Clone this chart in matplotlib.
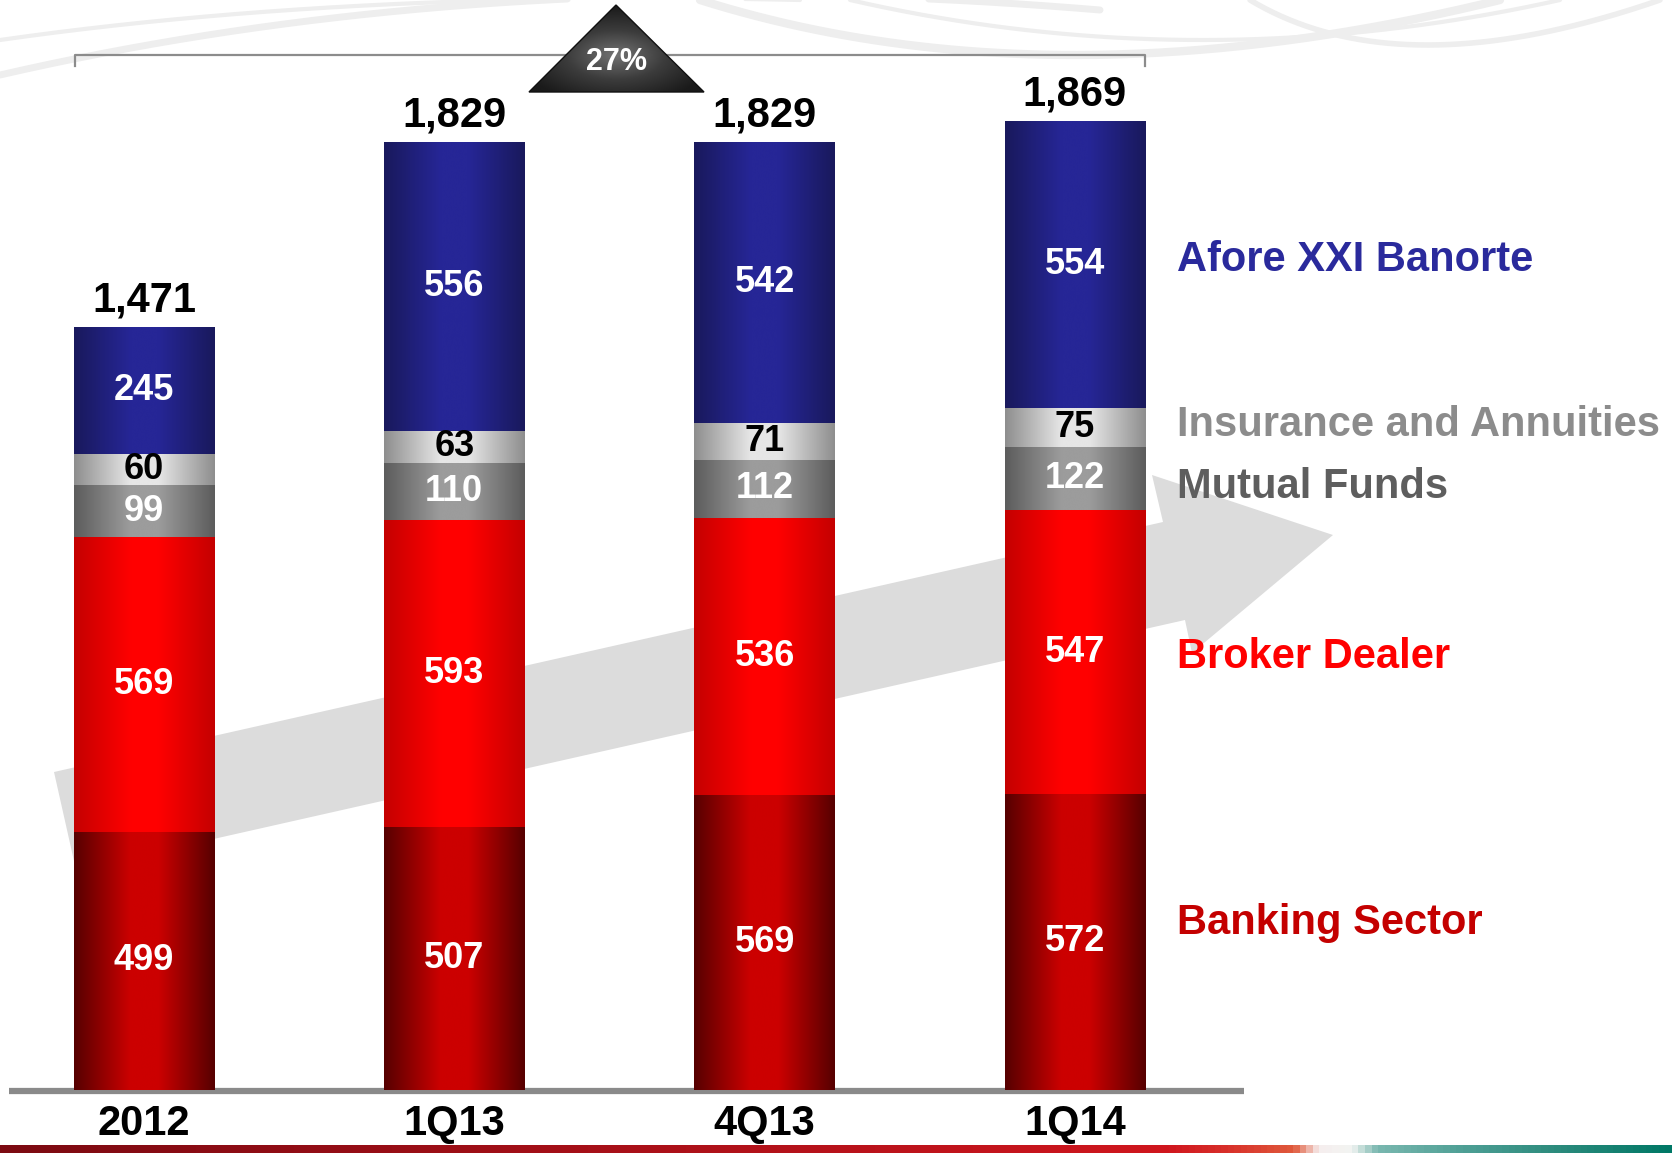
import numpy as np
import matplotlib
matplotlib.use("Agg")
import matplotlib.pyplot as plt
from matplotlib.colors import LinearSegmentedColormap
from matplotlib.patches import Polygon

plt.rcParams['font.family'] = ['Liberation Sans', 'DejaVu Sans']
plt.rcParams['font.weight'] = 'bold'

# --- data ---
periods = ['2012', '1Q13', '4Q13', '1Q14']
banking = [499, 507, 569, 572]
broker = [569, 593, 536, 547]
mutual = [99, 110, 112, 122]
insurance = [60, 63, 71, 75]
afore = [245, 556, 542, 554]
totals = ['1,471', '1,829', '1,829', '1,869']
growth_label = '27%'

series_names = ['Banking Sector', 'Broker Dealer', 'Mutual Funds',
                'Insurance and Annuities', 'Afore XXI Banorte']
series_vals = [banking, broker, mutual, insurance, afore]

# gradient colours per segment: (edge, centre), value text colour, legend colour
seg_edge = ['#560000', '#c40000', '#5c5c5c', '#8e8e8e', '#19195c']
seg_mid = ['#cc0000', '#ff0000', '#9c9c9c', '#e6e6e6', '#262696']
val_color = ['white', 'white', 'white', 'black', 'white']
lab_color = ['#c40000', '#ff0000', '#5e5e5e', '#8c8c8c', '#2a2a9c']
lab_y = [322, 836, 1164, 1284, 1602]   # right-hand label heights (data units)

# pixel -> data mapping of the full 1672x1153 canvas
X0, DX = 144.0, 310.3
Y0, DY = 1090.0, 0.518


def px(x, y):
    return (x - X0) / DX, (Y0 - y) / DY


fig = plt.figure(figsize=(16.72, 11.53), dpi=100)
ax = fig.add_axes([0, 0, 1, 1])
ax.axis('off')

# faint background swooshes at the top of the slide (quadratic curves, pixel space)
t = np.linspace(0, 1, 200)
for p0, p1, p2, lw in [((0, 75), (500, -40), (1100, 10), 5),
                       ((0, 40), (350, -10), (800, 0), 3),
                       ((700, 0), (1050, 110), (1500, 0), 6),
                       ((850, 0), (1200, 80), (1560, 0), 3),
                       ((1250, 0), (1400, 90), (1660, 0), 4)]:
    cx = (1 - t) ** 2 * p0[0] + 2 * (1 - t) * t * p1[0] + t ** 2 * p2[0]
    cy = (1 - t) ** 2 * p0[1] + 2 * (1 - t) * t * p1[1] + t ** 2 * p2[1]
    dx, dy = px(cx, cy)
    ax.plot(dx, dy, color='#eeeeee', lw=lw, zorder=0.2, solid_capstyle='round')

# big gray growth arrow behind the bars
arrow_px = [(54, 772), (1163, 522), (1152, 475), (1333, 535),
            (1192, 653), (1185, 620), (76, 870)]
ax.add_patch(Polygon([px(*p) for p in arrow_px], closed=True,
                     facecolor='#dcdcdc', edgecolor='none', zorder=0.5))

# baseline
bx0, by = px(9, 1091)
bx1, _ = px(1244, 1091)
ax.plot([bx0, bx1], [by, by], color='#8a8a8a', lw=4.5, solid_capstyle='butt', zorder=1)

x = np.arange(len(periods))
width = 0.452
grad = np.linspace(0, 1, 256).reshape(1, -1)

bottoms = np.zeros(len(periods))
for k, vals in enumerate(series_vals):
    cmap = LinearSegmentedColormap.from_list(
        f'seg{k}', [(0, seg_edge[k]), (0.4, seg_mid[k]), (0.6, seg_mid[k]), (1, seg_edge[k])])
    for i, v in enumerate(vals):
        b = bottoms[i]
        ax.imshow(grad, cmap=cmap, aspect='auto', interpolation='bicubic',
                  extent=[x[i] - width / 2, x[i] + width / 2, b, b + v], zorder=2)
        ax.text(x[i], b + v / 2, str(v), ha='center', va='center',
                fontsize=26, color=val_color[k], zorder=3)
    bottoms += np.array(vals)

for i, tot in enumerate(totals):
    ax.annotate(tot, (x[i], bottoms[i]), xytext=(0, 5), textcoords='offset points',
                ha='center', va='bottom', fontsize=30, color='black', zorder=3)

for i, p in enumerate(periods):
    ax.text(x[i], px(0, 1124)[1], p, ha='center', va='center', fontsize=30,
            color='black', zorder=3)

# right-hand series labels
lx = px(1177, 0)[0]
for k, name in enumerate(series_names):
    ax.text(lx, lab_y[k], name, ha='left', va='center', fontsize=30,
            color=lab_color[k], zorder=3)

# bracket over the bars
bl = [px(75, 66), px(75, 55), px(1145, 55), px(1145, 66)]
ax.plot([p[0] for p in bl], [p[1] for p in bl], color='#8c8c8c', lw=1.6, zorder=1.5)

# growth triangle with radial shading
tri_px = [(529, 92), (616, 5), (704, 92)]
tri = Polygon([px(*p) for p in tri_px], closed=True, facecolor='none',
              edgecolor='#111111', lw=1.0, zorder=4.5)
ax.add_patch(tri)
gx, gy = np.meshgrid(np.linspace(529, 704, 200), np.linspace(5, 92, 120))
dist = np.sqrt(((gx - 616) / 90) ** 2 + ((gy - 55) / 45) ** 2)
tri_cmap = LinearSegmentedColormap.from_list('tri', ['#727272', '#3c3c3c', '#1a1a1a'])
x_a, y_a = px(529, 92)
x_b, y_b = px(704, 5)
im = ax.imshow(dist, cmap=tri_cmap, aspect='auto', interpolation='bicubic',
               extent=[x_a, x_b, y_a, y_b], origin='upper', vmin=0, vmax=1.1, zorder=4)
im.set_clip_path(tri)
tx, ty = px(617, 62)
ax.text(tx, ty, growth_label, ha='center', va='center', fontsize=22,
        color='white', zorder=5)

# bottom decorative strip
strip = np.linspace(0, 1, 512).reshape(1, -1)
strip_cmap = LinearSegmentedColormap.from_list('strip', [
    (0.0, '#7c0a12'), (0.70, '#d0161e'), (0.735, '#d8302a'), (0.775, '#e05a3c'),
    (0.79, '#f6eeee'), (0.81, '#f2f4f2'), (0.825, '#7ab8b0'), (0.88, '#4c9e94'),
    (0.93, '#2e8c7e'), (1.0, '#007866')])
sx0, sy0 = px(0, 1153)
sx1, sy1 = px(1672, 1145)
ax.imshow(strip, cmap=strip_cmap, aspect='auto', extent=[sx0, sx1, sy0, sy1], zorder=6)

xl0, yl1 = px(0, 0)
xl1, yl0 = px(1672, 1153)
ax.set_xlim(xl0, xl1)
ax.set_ylim(yl0, yl1)

fig.savefig('out.png', dpi=100)
